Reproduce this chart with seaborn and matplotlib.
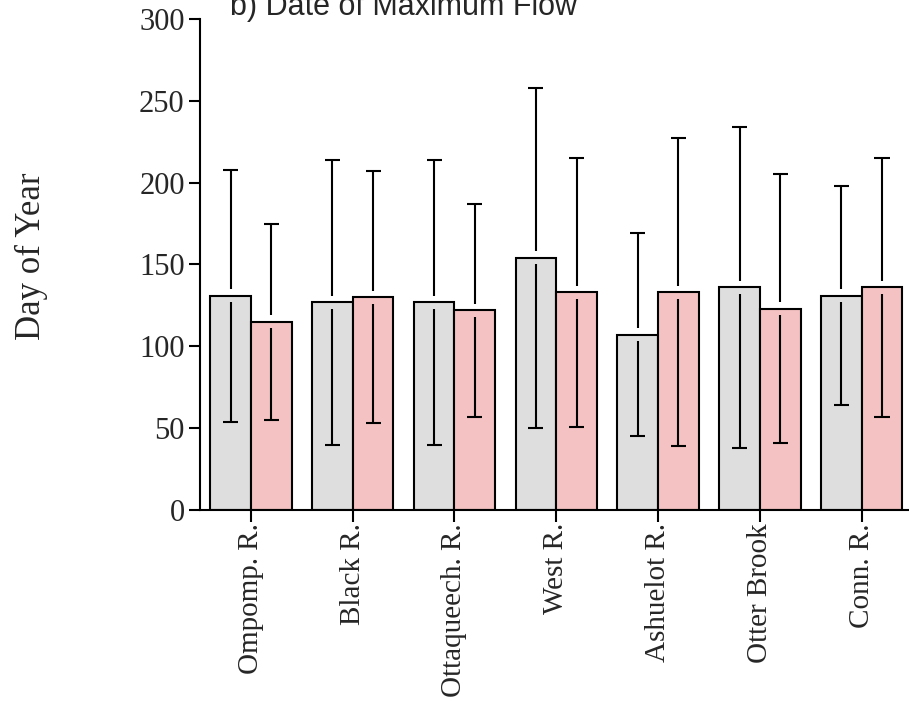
import numpy as np
import pandas as pd
import matplotlib
matplotlib.use("Agg")
import matplotlib.pyplot as plt
import seaborn as sns

# Datos (día del año del caudal máximo)
rivers = ["Ompomp. R.", "Black R.", "Ottaqueech. R.", "West R.",
          "Ashuelot R.", "Otter Brook", "Conn. R."]
groups = ["early", "late"]
mean_early = [131, 127, 127, 154, 107, 136, 131]
sd_early = [77, 87, 87, 104, 62, 98, 67]
mean_late = [115, 130, 122, 133, 133, 123, 136]
sd_late = [60, 77, 65, 82, 94, 82, 79]

sns.set_style("ticks")
plt.rcParams['font.family'] = ['Liberation Serif', 'DejaVu Serif']

df = pd.DataFrame({
    "river": rivers * 2,
    "group": [groups[0]] * len(rivers) + [groups[1]] * len(rivers),
    "doy": mean_early + mean_late,
})

fig = plt.figure(figsize=(9.09, 7.02), dpi=100)
ax = fig.add_axes([0.22, 0.2735, 0.78, 0.6995])

palette = {"early": "#dedede", "late": "#f4c2c2"}
sns.barplot(data=df, x="river", y="doy", hue="group", palette=palette,
            order=rivers, hue_order=groups, errorbar=None, width=0.8,
            saturation=1, edgecolor="black", linewidth=1.5, ax=ax)
ax.legend_.remove()

# barras de error (con un pequeño hueco en el borde de la barra)
gap = 4
cap = 0.074
for cont, sds in zip(ax.containers, [sd_early, sd_late]):
    for bar, sd in zip(cont, sds):
        xc = bar.get_x() + bar.get_width() / 2
        m = bar.get_height()
        ax.vlines(xc, m + gap, m + sd, color="black", lw=1.5, zorder=4)
        ax.vlines(xc, m - sd, m - gap, color="black", lw=1.5, zorder=4)
        ax.hlines([m + sd, m - sd], xc - cap, xc + cap, color="black",
                  lw=1.5, zorder=4)

ax.set_ylim(0, 300)
ax.set_xlim(-0.5, 6.465)
ax.set_yticks([0, 50, 100, 150, 200, 250, 300])
ax.set_xlabel("")
ax.set_ylabel("")
ax.tick_params(axis="y", labelsize=22, length=8, width=1.5, pad=3,
               color="black")
ax.tick_params(axis="x", labelsize=21, length=8.5, width=1.5, pad=1,
               color="black")
plt.setp(ax.get_xticklabels(), rotation=90, va="top", ha="center")
sns.despine(ax=ax)
for s in ["left", "bottom"]:
    ax.spines[s].set_linewidth(1.5)
    ax.spines[s].set_color("black")

fig.text(0.035, 0.635, "Day of Year", rotation=90, fontsize=25,
         ha="center", va="center")
fig.text(0.253, 0.979, "b) Date of Maximum Flow", fontsize=22,
         family=["Liberation Sans", "DejaVu Sans"], ha="left",
         va="baseline")

fig.savefig("out.png", dpi=100)
